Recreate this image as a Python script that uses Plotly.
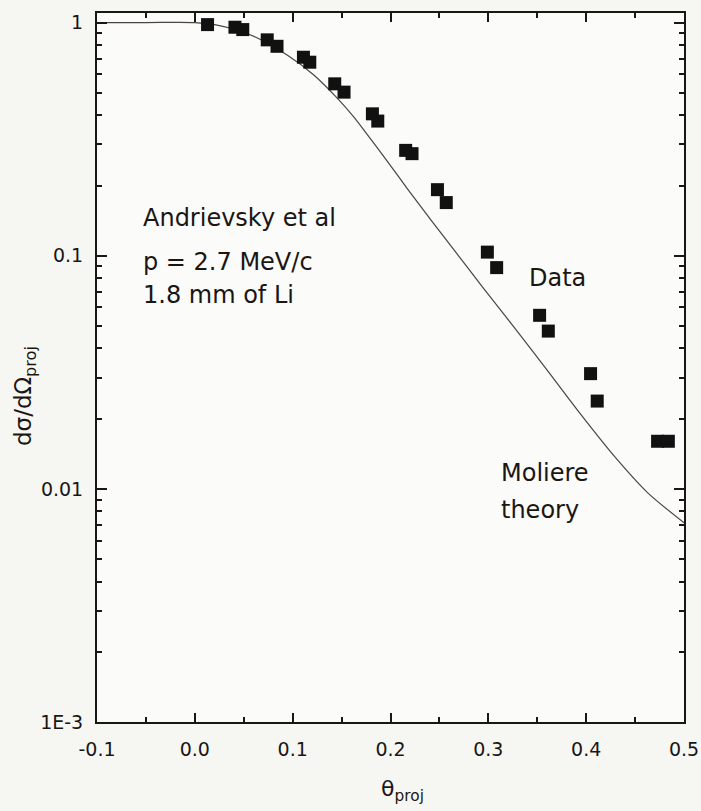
import plotly.graph_objects as go

# Data
data_theta = [0.013, 0.041, 0.049, 0.074, 0.084, 0.111, 0.1175, 0.143, 0.1525,
              0.1815, 0.187, 0.2155, 0.222, 0.248, 0.257, 0.299, 0.3085,
              0.3524, 0.3613, 0.4045, 0.4113, 0.473, 0.484]
data_xs = [0.98, 0.955, 0.933, 0.843, 0.791, 0.71, 0.676, 0.546, 0.503,
           0.406, 0.378, 0.283, 0.274, 0.192, 0.169, 0.1036, 0.0889,
           0.0555, 0.0475, 0.0312, 0.0238, 0.016, 0.016]

theory_theta = [-0.1, -0.05, 0.0, 0.0215, 0.057, 0.0947, 0.1216, 0.1458, 0.1624,
                0.173, 0.1968, 0.2173, 0.2428, 0.2649, 0.2939, 0.3262, 0.3603,
                0.3943, 0.4283, 0.4624, 0.5]
theory_xs = [1.0, 1.0, 1.0, 0.977, 0.885, 0.724, 0.596, 0.473, 0.394,
             0.345, 0.254, 0.1936, 0.1396, 0.1059, 0.0735, 0.0494, 0.0322,
             0.0209, 0.01387, 0.00966, 0.00716]

y_tickvals = [1, 0.1, 0.01, 0.001]
y_ticktext = ["1", "0.1", "0.01", "1E-3"]
x_tickvals = [-0.1, 0.0, 0.1, 0.2, 0.3, 0.4, 0.5]
x_ticktext = ["-0.1", "0.0", "0.1", "0.2", "0.3", "0.4", "0.5"]

y_minor = [m * 10.0 ** e for e in (-3, -2, -1) for m in range(2, 10)]
x_minor = [-0.05, 0.05, 0.15, 0.25, 0.35, 0.45]

FONT = "DejaVu Sans, Arial, sans-serif"
INK = "#1a1614"

fig = go.Figure()
fig.add_trace(go.Scatter(x=theory_theta, y=theory_xs, mode="lines",
                         line=dict(color="#4a4542", width=1.2, shape="spline", smoothing=0.8),
                         showlegend=False))
fig.add_trace(go.Scatter(x=data_theta, y=data_xs, mode="markers",
                         marker=dict(symbol="square", size=13, color="#111111",
                                     line=dict(width=0)), showlegend=False))

axis_common = dict(showline=True, linecolor=INK, linewidth=2, mirror="ticks",
                   ticks="inside", tickcolor=INK, tickwidth=2, showgrid=False,
                   zeroline=False, tickfont=dict(family=FONT, size=19, color=INK))

fig.update_xaxes(range=[-0.1, 0.5], tickvals=x_tickvals, ticktext=x_ticktext,
                 ticklen=9, ticklabelstandoff=9,
                 minor=dict(ticks="inside", ticklen=5, tickvals=x_minor,
                            tickcolor=INK, tickwidth=2, showgrid=False),
                 **axis_common)
fig.update_yaxes(type="log", range=[-3, 0.041], tickvals=y_tickvals, ticktext=y_ticktext,
                 ticklen=10, ticklabelstandoff=8,
                 minor=dict(ticks="inside", ticklen=5, tickvals=y_minor,
                            tickcolor=INK, tickwidth=2, showgrid=False),
                 **axis_common)

# axis titles
fig.add_annotation(text="θ<sub>proj</sub>", xref="paper", yref="paper",
                   x=(402 - 97) / 587, y=-(790 - 722) / 709, xanchor="center", yanchor="middle",
                   showarrow=False, font=dict(family=FONT, size=22, color=INK))
fig.add_annotation(text="dσ/dΩ<sub>proj</sub>", xref="paper", yref="paper", textangle=-90,
                   x=(25 - 97) / 587, y=(722 - 396) / 709, xanchor="center", yanchor="middle",
                   showarrow=False, font=dict(family=FONT, size=23, color=INK))

ann_font = dict(family=FONT, size=24, color=INK)
texts = [
    ("Andrievsky et al", -0.0552, -0.840),
    ("p = 2.7 MeV/c", -0.0552, -1.029),
    ("1.8 mm of Li", -0.0552, -1.170),
    ("Data", 0.340, -1.095),
    ("Moliere", 0.3105, -1.933),
    ("theory", 0.3105, -2.09),
]
for t, x, y in texts:
    fig.add_annotation(text=t, x=x, y=y, xref="x", yref="y", xanchor="left",
                       yanchor="middle", showarrow=False, font=ann_font)

fig.update_layout(width=701, height=811, autosize=False,
                  margin=dict(l=97, r=17, t=13, b=89, autoexpand=False),
                  paper_bgcolor="#f6f6f3", plot_bgcolor="#fbfbfa",
                  font=dict(family=FONT, color=INK))

fig.write_html("out.html")
